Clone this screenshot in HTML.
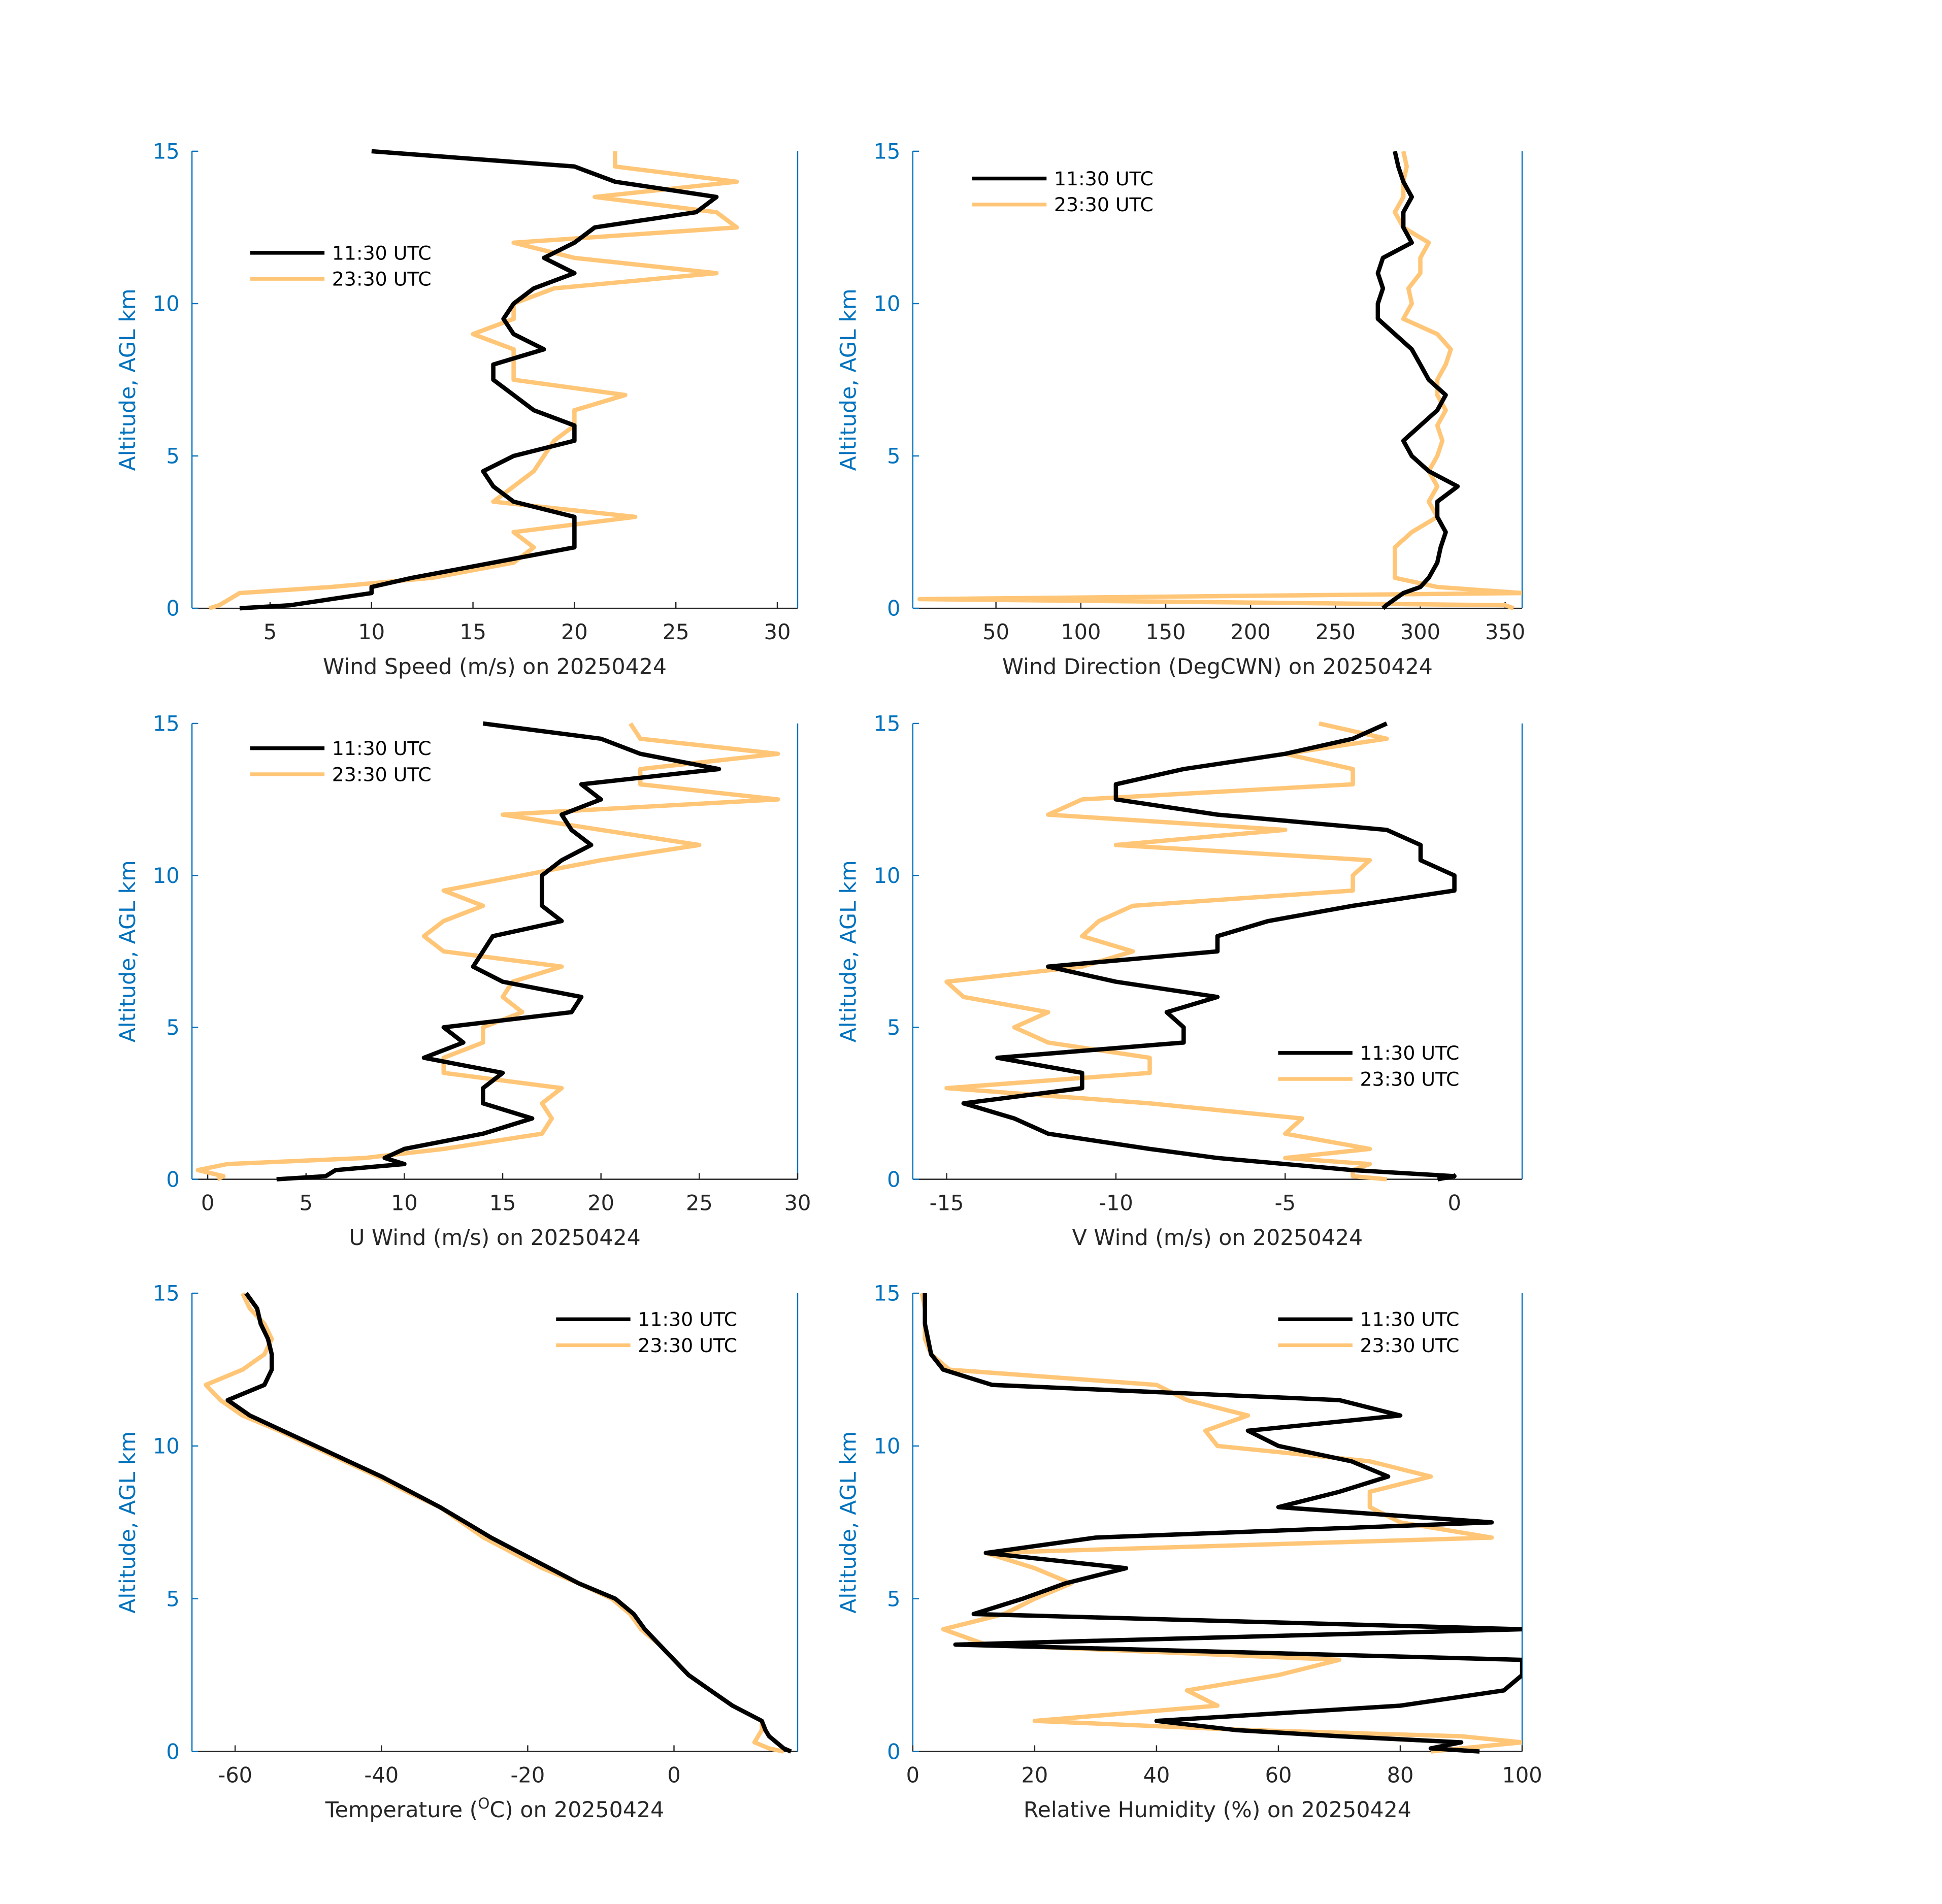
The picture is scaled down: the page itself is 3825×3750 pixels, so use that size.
<!DOCTYPE html>
<html><head><meta charset="utf-8"><style>
html,body{margin:0;padding:0;background:#fff;}
svg{display:block;font-family:"DejaVu Sans","Liberation Sans",sans-serif;}
</style></head><body>
<svg id="chart" width="3825" height="3750" viewBox="0 0 1568 1537" xmlns="http://www.w3.org/2000/svg">
<rect width="1568" height="1537" fill="#fff"/>
</svg>
<script>
const altitudes=[0,0.1,0.3,0.5,0.7,1,1.5,2,2.5,3,3.5,4,4.5,5,5.5,6,6.5,7,7.5,8,8.5,9,9.5,10,10.5,11,11.5,12,12.5,13,13.5,14,14.5,15];
const seriesNames=["11:30 UTC","23:30 UTC"];
const speedA=[3.5,6,8,10,10,12,16,20,20,20,17,16,15.5,17,20,20,18,17,16,16,18.5,17,16.5,17,18,20,18.5,20,21,26,27,22,20,10];
const speedB=[2,2.5,3,3.5,8,13,17,18,17,23,16,17,18,18.5,19,20,20,22.5,17,17,17,15,17,17,19,27,20,17,28,27,21,28,22,22];
const dirA=[278,280,285,290,300,305,310,312,315,310,310,322,305,295,290,300,310,315,305,300,295,285,275,275,278,275,278,295,290,290,295,290,287,285];
const dirB=[355,350,5,360,310,285,285,285,295,310,305,310,305,310,313,310,315,310,310,315,318,310,290,295,293,300,300,305,290,285,290,290,292,290];
const uA=[3.5,6,6.5,10,9,10,14,16.5,14,14,15,11,13,12,18.5,19,15,13.5,14,14.5,18,17,17,17,18,19.5,18.5,18,20,19,26,22,20,14];
const uB=[0.5,0.8,-0.5,1,8,12,17,17.5,17,18,12,12,14,14,16,15,15.5,18,12,11,12,14,12,16,20,25,20,15,29,22,22,29,22,21.5];
const vA=[-0.5,0,-3,-5,-7,-9,-12,-13,-14.5,-11,-11,-13.5,-8,-8,-8.5,-7,-10,-12,-7,-7,-5.5,-3,0,0,-1,-1,-2,-7,-10,-10,-8,-5,-3,-2];
const vB=[-2,-3,-3,-2.5,-5,-2.5,-5,-4.5,-9,-15,-9,-9,-12,-13,-12,-14.5,-15,-11,-9.5,-11,-10.5,-9.5,-3,-3,-2.5,-10,-5,-12,-11,-3,-3,-5,-2,-4];
const tempA=[16,15,14,13,12.5,12,8,5,2,0,-2,-4,-5.5,-8,-13,-17,-21,-25,-28.5,-32,-36,-40,-44.5,-49,-53.5,-58,-61,-56,-55,-55,-55.5,-56.5,-57,-58.5];
const tempB=[15,13,11,11.5,12,12,8,5,2,0,-2,-4.5,-6,-8.5,-13,-18,-22,-26,-29,-32,-36.5,-40.5,-45,-49.5,-54,-59,-62,-64,-59,-56,-55,-56,-58,-59];
const rhA=[93,85,90,70,53,40,80,97,100,100,7,100,10,18,25,35,12,30,95,60,70,78,72,60,55,80,70,13,5,3,2.5,2,2,2];
const rhB=[85,90,100,90,55,20,50,45,60,70,12,5,15,20,26,20,12,95,80,75,75,85,75,50,48,55,45,40,6,3,2,2,2,1.5];
const yTicks=[0,5,10,15];
const ticks1=[5,10,15,20,25,30];
const ticks2=[50,100,150,200,250,300,350];
const ticks3=[0,5,10,15,20,25,30];
const ticks4=[-15,-10,-5,0];
const ticks5=[-60,-40,-20,0];
const ticks6=[0,20,40,60,80,100];

const NS="http://www.w3.org/2000/svg";
const svg=document.getElementById('chart');
function mk(tag,attrs,parent){const e=document.createElementNS(NS,tag);for(const k in attrs)e.setAttribute(k,attrs[k]);(parent||svg).appendChild(e);return e;}

const panels=[
 {key:'wind-speed',x0:155,x1:644,y0:122,y1:491,xmin:1.15,xmax:31,ticks:ticks1,a:speedA,b:speedB,title:'Wind Speed (m/s) on 20250424',leg:[202,204]},
 {key:'wind-direction',x0:737,x1:1229,y0:122,y1:491,xmin:1,xmax:360,ticks:ticks2,a:dirA,b:dirB,title:'Wind Direction (DegCWN) on 20250424',leg:[785,144]},
 {key:'u-wind',x0:155,x1:644,y0:584,y1:952,xmin:-0.8,xmax:30,ticks:ticks3,a:uA,b:uB,title:'U Wind (m/s) on 20250424',leg:[202,604]},
 {key:'v-wind',x0:737,x1:1229,y0:584,y1:952,xmin:-16,xmax:2,ticks:ticks4,a:vA,b:vB,title:'V Wind (m/s) on 20250424',leg:[1032,850]},
 {key:'temperature',x0:155,x1:644,y0:1044,y1:1414,xmin:-65.9,xmax:16.9,ticks:ticks5,a:tempA,b:tempB,title:'Temperature (<tspan baseline-shift="super" font-size="12">O</tspan>C) on 20250424',leg:[449,1065]},
 {key:'relative-humidity',x0:737,x1:1229,y0:1044,y1:1414,xmin:0,xmax:100,ticks:ticks6,a:rhA,b:rhB,title:'Relative Humidity (%) on 20250424',leg:[1032,1065]}
];

panels.forEach(p=>{
 const g=mk('g',{});
 
 
 const sx=v=>p.x0+(v-p.xmin)/(p.xmax-p.xmin)*(p.x1-p.x0);
 const sy=v=>p.y1-(v-0)/15*(p.y1-p.y0);
 const xa=mk('line',{x1:p.x0,y1:p.y1,x2:p.x1,y2:p.y1,stroke:'#262626','stroke-width':1},g);
 
 
 const ya=mk('line',{x1:p.x0,y1:p.y0,x2:p.x0,y2:p.y1,stroke:'#0072BD','stroke-width':1},g);
 
 
 mk('line',{x1:p.x1,y1:p.y0,x2:p.x1,y2:p.y1,stroke:'#0072BD','stroke-width':1},g);
 p.ticks.forEach(t=>{
  const x=sx(t);
  mk('line',{x1:x,y1:p.y1,x2:x,y2:p.y1-5,stroke:'#262626','stroke-width':1},g);
  const tx=mk('text',{x:x,y:p.y1+25,'text-anchor':'middle','font-size':17,fill:'#262626'},g);
  tx.textContent=t;
  
  
 });
 yTicks.forEach(t=>{
  const y=sy(t);
  mk('line',{x1:p.x0,y1:y,x2:p.x0+5,y2:y,stroke:'#0072BD','stroke-width':1},g);
  const tx=mk('text',{x:p.x0-10,y:y+6,'text-anchor':'end','font-size':17,fill:'#0072BD'},g);
  tx.textContent=t;
  
  
 });
 const xt=mk('text',{x:(p.x0+p.x1)/2,y:p.y1+53,'text-anchor':'middle','font-size':17.5,fill:'#262626'},g);
 xt.innerHTML=p.title;
 
 
 const cy=(p.y0+p.y1)/2;
 const yt=mk('text',{x:0,y:0,'text-anchor':'middle','font-size':17.5,fill:'#0072BD',transform:`translate(${p.x0-46},${cy}) rotate(-90)`},g);
 yt.textContent='Altitude, AGL km';
 
 
 const clip=mk('clipPath',{id:'clip-'+p.key},g);
 mk('rect',{x:p.x0,y:p.y0-3,width:p.x1-p.x0,height:p.y1-p.y0+6},clip);
 [[p.b,'#FFC678','23:30'],[p.a,'#000000','11:30']].forEach(([vals,col,nm])=>{
  const d=vals.map((v,i)=>(i?'L':'M')+sx(v).toFixed(1)+','+sy(altitudes[i]).toFixed(1)).join(' ');
  const path=mk('path',{d:d,fill:'none',stroke:col,'stroke-width':3.5,'stroke-linejoin':'round','clip-path':`url(#clip-${p.key})`},g);
  
  
 });
 const [lx,ly]=p.leg;
 const lg=mk('g',{},g);
 
 
 [['#000000',seriesNames[0],0],['#FFC678',seriesNames[1],21]].forEach(([c,t,off])=>{
  mk('line',{x1:lx,y1:ly+off,x2:lx+60,y2:ly+off,stroke:c,'stroke-width':3},lg);
  const lt=mk('text',{x:lx+66,y:ly+off+5.5,'font-size':15.5,fill:'#000'},lg);
  lt.textContent=t;
  
  
 });
});
</script>
</body></html>
